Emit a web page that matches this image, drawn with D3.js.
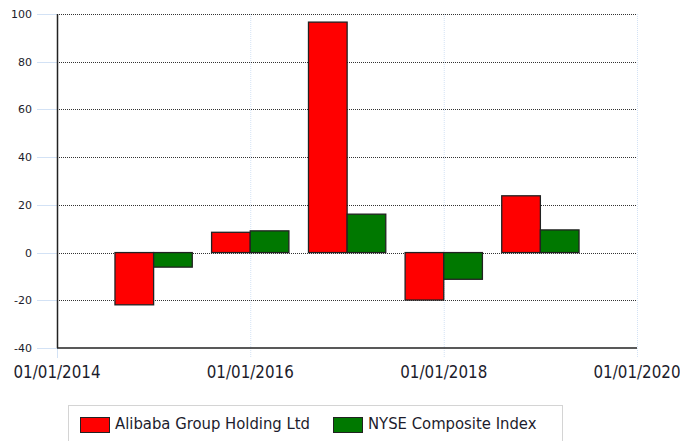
<!DOCTYPE html>
<html>
<head>
<meta charset="utf-8">
<script src="https://cdn.jsdelivr.net/npm/d3@7"></script>
<style>
  body { margin: 0; background: #fff; }
  svg { display: block; }
</style>
</head>
<body>
<script>
// data (yearly % change)
const periods = ['2015-01-01', '2016-01-01', '2017-01-01', '2018-01-01', '2019-01-01'];
const alibaba = [-21.9, 8.5, 96.6, -19.9, 23.8];
const nyse = [-6.1, 9.1, 16.1, -11.2, 9.5];
const seriesNames = ['Alibaba Group Holding Ltd', 'NYSE Composite Index'];
const seriesColors = ['#ff0000', '#007800'];
const yTicks = [-40, -20, 0, 20, 40, 60, 80, 100];
const xTicks = ['2014-01-01', '2016-01-01', '2018-01-01', '2020-01-01'];

const W = 680, H = 441;
const margin = { top: 14, right: 43, bottom: 93, left: 57 };
const width = W - margin.left - margin.right,
  height = H - margin.top - margin.bottom;

const parse = d3.utcParse('%Y-%m-%d');
const fmt = d3.utcFormat('%m/%d/%Y');

const svg = d3.select('body').append('svg')
  .attr('width', W)
  .attr('height', H);

const g = svg.append('g')
  .attr('transform', 'translate(' + margin.left + ',' + margin.top + ')');

const x = d3.scaleUtc()
  .domain([parse('2014-01-01'), parse('2020-01-01')])
  .range([0, width]);

const y = d3.scaleLinear()
  .domain([-40, 100])
  .range([height, 0]);

// vertical light blue grid
g.append('g').selectAll('line')
  .data(xTicks.slice(1))
  .enter().append('line')
  .attr('x1', d => x(parse(d)) + 0.5)
  .attr('x2', d => x(parse(d)) + 0.5)
  .attr('y1', 0)
  .attr('y2', height + 10)
  .attr('stroke', '#d3e2f5')
  .attr('stroke-dasharray', '1,1');

// x tick mark below axis at the origin
g.append('g').selectAll('line')
  .data(xTicks.slice(0, 1))
  .enter().append('line')
  .attr('x1', d => x(parse(d)) + 0.5)
  .attr('x2', d => x(parse(d)) + 0.5)
  .attr('y1', height)
  .attr('y2', height + 10)
  .attr('stroke', '#d3e2f5');

// horizontal dotted grid
g.append('g').selectAll('line')
  .data(yTicks.filter(d => d > -40))
  .enter().append('line')
  .attr('x1', 0)
  .attr('x2', width)
  .attr('y1', d => Math.round(y(d)) + 0.5)
  .attr('y2', d => Math.round(y(d)) + 0.5)
  .attr('stroke', '#333')
  .attr('stroke-dasharray', '1,1');

// y ticks + labels
const yAxis = g.append('g');
yAxis.selectAll('line')
  .data(yTicks)
  .enter().append('line')
  .attr('x1', -20)
  .attr('x2', 0)
  .attr('y1', d => Math.round(y(d)) + 0.5)
  .attr('y2', d => Math.round(y(d)) + 0.5)
  .attr('stroke', '#d3e2f5');
yAxis.selectAll('text')
  .data(yTicks)
  .enter().append('text')
  .attr('x', -25)
  .attr('y', d => y(d))
  .attr('dy', '0.36em')
  .attr('text-anchor', 'end')
  .attr('font-family', 'DejaVu Sans, Verdana, sans-serif')
  .attr('font-size', 11)
  .attr('fill', '#1c1c2c')
  .text(d => d);

// x labels
g.append('g').selectAll('text')
  .data(xTicks)
  .enter().append('text')
  .attr('x', d => x(parse(d)))
  .attr('y', height + 30)
  .attr('text-anchor', 'middle')
  .attr('font-family', 'DejaVu Sans Condensed, DejaVu Sans, sans-serif')
  .attr('font-stretch', 'condensed')
  .attr('font-size', 16.8)
  .attr('fill', '#1c1c2c')
  .text(d => fmt(parse(d)));

// bars
const yearW = x(parse('2016-01-01')) - x(parse('2015-01-01'));
const bw = yearW * 0.4;
[alibaba, nyse].forEach((vals, si) => {
  g.append('g').selectAll('rect')
    .data(vals)
    .enter().append('rect')
    .attr('x', (d, i) => x(parse(periods[i])) + (si === 0 ? -bw : 0))
    .attr('y', d => y(Math.max(0, d)))
    .attr('width', bw)
    .attr('height', d => Math.abs(y(d) - y(0)))
    .attr('fill', seriesColors[si])
    .attr('stroke', '#222')
    .attr('stroke-width', 1.3);
});

// axis lines
g.append('line')
  .attr('x1', 0.5).attr('x2', 0.5)
  .attr('y1', 0).attr('y2', height)
  .attr('stroke', '#222').attr('stroke-width', 1.5);
g.append('line')
  .attr('x1', 0).attr('x2', width)
  .attr('y1', height).attr('y2', height)
  .attr('stroke', '#222').attr('stroke-width', 1.5);

// legend
const legend = svg.append('g');
legend.append('rect')
  .attr('x', 68.5).attr('y', 405.5)
  .attr('width', 494).attr('height', 45)
  .attr('fill', '#fff')
  .attr('stroke', '#d4d4d4');
const legX = [80, 333];
seriesNames.forEach((name, i) => {
  legend.append('rect')
    .attr('x', legX[i] + 0.5).attr('y', 417.5)
    .attr('width', 29).attr('height', 15)
    .attr('fill', seriesColors[i])
    .attr('stroke', '#222');
  legend.append('text')
    .attr('x', legX[i] + 35)
    .attr('y', 429)
    .attr('font-family', 'DejaVu Sans Condensed, DejaVu Sans, sans-serif')
    .attr('font-stretch', 'condensed')
    .attr('font-size', 16.5)
    .attr('fill', '#1c1c2c')
    .text(name);
});
</script>
</body>
</html>
